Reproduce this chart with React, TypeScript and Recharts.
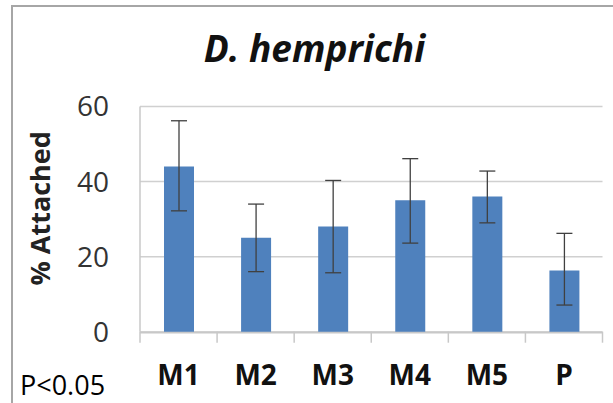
import React from "react";
import { BarChart, Bar, XAxis, YAxis, CartesianGrid, ErrorBar } from "recharts";

const categories = ["M1", "M2", "M3", "M4", "M5", "P"];
const attached = [44, 25, 28, 35, 36, 16.3];
const errMinus = [11.8, 9, 12.3, 11.4, 7, 9.2];
const errPlus = [12.2, 9, 12.3, 11.1, 6.8, 9.9];
const yTicks = [0, 20, 40, 60];
const edgeTicks = [0, 1, 2, 3, 4, 5, 6];

const data = categories.map((c, i) => ({
  cat: c,
  pos: i + 0.5,
  value: attached[i],
  err: [errMinus[i], errPlus[i]],
}));

const FONT = "'Open Sans', 'DejaVu Sans', sans-serif";

export default function App() {
  return (
    <div
      style={{
        position: "fixed",
        left: 0,
        top: 0,
        width: 613,
        height: 403,
        overflow: "hidden",
        background: "#fff",
        fontFamily: FONT,
      }}
    >
      <div
        style={{
          position: "absolute",
          left: 11,
          top: 5,
          width: 800,
          height: 600,
          borderLeft: "2px solid #a6a6a6",
          borderTop: "2px solid #a6a6a6",
        }}
      />
      <div style={{ position: "absolute", left: 0, top: 0 }}>
        <BarChart
          width={613}
          height={403}
          data={data}
          margin={{ top: 106.5, right: 10.5, bottom: 0, left: 0 }}
        >
          <CartesianGrid xAxisId="zcat" vertical={false} stroke="#d0d0d0" strokeWidth={1.5} />
          <XAxis
            xAxisId="aedges"
            dataKey="pos"
            type="number"
            domain={[0, 6]}
            ticks={edgeTicks}
            height={1}
            tick={{ fontSize: 1, fill: "none" }}
            tickFormatter={() => ""}
            tickSize={11}
            axisLine={false}
            tickLine={{ stroke: "#c8c8c8", strokeWidth: 1.5 }}
          />
          <XAxis
            xAxisId="zcat"
            dataKey="cat"
            height={70.3}
            tickLine={false}
            tickSize={6}
            tickMargin={26}
            axisLine={{ stroke: "#c8c8c8", strokeWidth: 1.5 }}
            tick={{ fontSize: 28, fontWeight: "bold", fill: "#111", fontFamily: FONT }}
            interval={0}
          />
          <YAxis
            width={140}
            domain={[0, 60]}
            ticks={yTicks}
            tickLine={false}
            tickSize={6}
            tickMargin={25}
            axisLine={{ stroke: "#c8c8c8", strokeWidth: 1.5 }}
            tick={{ fontSize: 28, fill: "#333", fontFamily: FONT }}
          />
          <Bar xAxisId="zcat" dataKey="value" fill="#4f81bd" barSize={30} isAnimationActive={false}>
            <ErrorBar dataKey="err" width={8} stroke="#404040" strokeWidth={1.3} />
          </Bar>
        </BarChart>
      </div>
      <svg
        width={613}
        height={403}
        style={{ position: "absolute", left: 0, top: 0, pointerEvents: "none" }}
      >
        <text
          x={314.5}
          y={61.7}
          textAnchor="middle"
          fontSize={37}
          fontWeight="bold"
          fontStyle="italic"
          fill="#111"
          fontFamily={FONT}
        >
          D. hemprichi
        </text>
        <text
          transform="translate(50,208.3) rotate(-90)"
          textAnchor="middle"
          fontSize={27}
          fontWeight="bold"
          fill="#222"
          fontFamily={FONT}
        >
          % Attached
        </text>
        <text x={20} y={395} fontSize={27} fill="#000" fontFamily={FONT}>
          P&lt;0.05
        </text>
      </svg>
    </div>
  );
}
